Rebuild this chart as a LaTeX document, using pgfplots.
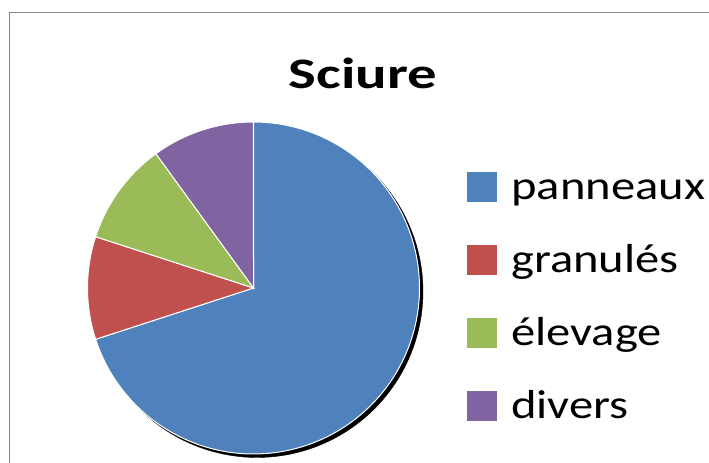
\documentclass[border=0pt]{standalone}
\usepackage{pgfplots}
\pgfplotsset{compat=1.18}
\usepackage{pgfplotstable}
\usepackage{fontspec}
\setmainfont{Carlito}
\definecolor{cblue}{HTML}{4F81BD}
\definecolor{cred}{HTML}{C0504D}
\definecolor{cgreen}{HTML}{9BBB59}
\definecolor{cpurple}{HTML}{8064A2}
\definecolor{framegray}{HTML}{878787}

\pgfplotstableread{
label value
panneaux 70
granules 10
elevage 10
divers 10
}\piedata

\newcommand\legtxt[1]{\scalebox{1.2}[1]{#1}}

\begin{document}%
\begin{tikzpicture}
\pgfplotstablegetelem{0}{value}\of\piedata \pgfmathsetmacro\va{\pgfplotsretval}
\pgfplotstablegetelem{1}{value}\of\piedata \pgfmathsetmacro\vb{\pgfplotsretval}
\pgfplotstablegetelem{2}{value}\of\piedata \pgfmathsetmacro\vc{\pgfplotsretval}
\pgfplotstablegetelem{3}{value}\of\piedata \pgfmathsetmacro\vd{\pgfplotsretval}
\pgfmathsetmacro\tot{\va+\vb+\vc+\vd}
\pgfmathsetmacro\angA{90-360*(\va/\tot)}
\pgfmathsetmacro\angB{\angA-360*(\vb/\tot)}
\pgfmathsetmacro\angC{\angB-360*(\vc/\tot)}
\pgfmathsetmacro\angD{\angC-360*(\vd/\tot)}
\useasboundingbox (0,0) rectangle (709bp,463bp);
\clip (0,0) rectangle (709bp,463bp);
\begin{axis}[
  at={(0,0)}, anchor=south west,
  scale only axis, width=709bp, height=463bp,
  xmin=0, xmax=709, ymin=0, ymax=463,
  hide axis, clip=false, ticks=none,
  legend image code/.code={\fill[#1,draw=none] (0bp,-3bp) rectangle (30bp,27bp);},
  legend style={overlay, at={(axis cs:467,294)}, anchor=north west, draw=none, fill=none,
    inner sep=0pt, column sep=14bp, row sep=0bp,
    font=\fontsize{40.5bp}{40.5bp}\selectfont,
    nodes={inner sep=0pt, text height=30bp, text depth=43bp, anchor=base west}},
  legend cell align=left,
]
% frame
\draw[overlay, framegray, line width=1.6bp] (axis cs:9.5,-20) |- (axis cs:740,450.5);
% shadow
\addplot[forget plot, fill=black, draw=black, domain=0:360, samples=181]
  ({257+166*cos(x)},{171.5+166*sin(x)}) -- cycle;
\addplot[fill=cblue, draw=white, line width=1bp, domain=\angA:90, samples=150]
  ({253.5+166*cos(x)},{175+166*sin(x)}) -- (axis cs:253.5,175) -- cycle;
\addlegendentry{\legtxt{panneaux}}
\addplot[fill=cred, draw=white, line width=1bp, domain=\angB:\angA, samples=30]
  ({253.5+166*cos(x)},{175+166*sin(x)}) -- (axis cs:253.5,175) -- cycle;
\addlegendentry{\legtxt{granulés}}
\addplot[fill=cgreen, draw=white, line width=1bp, domain=\angC:\angB, samples=30]
  ({253.5+166*cos(x)},{175+166*sin(x)}) -- (axis cs:253.5,175) -- cycle;
\addlegendentry{\legtxt{élevage}}
\addplot[fill=cpurple, draw=white, line width=1bp, domain=\angD:\angC, samples=30]
  ({253.5+166*cos(x)},{175+166*sin(x)}) -- (axis cs:253.5,175) -- cycle;
\addlegendentry{\legtxt{divers}}
\node[anchor=base, font=\fontsize{43.5bp}{43.5bp}\selectfont\bfseries] at (axis cs:363,374) {\scalebox{1.35}[1]{Sciure}};
\end{axis}
\end{tikzpicture}%
\end{document}
